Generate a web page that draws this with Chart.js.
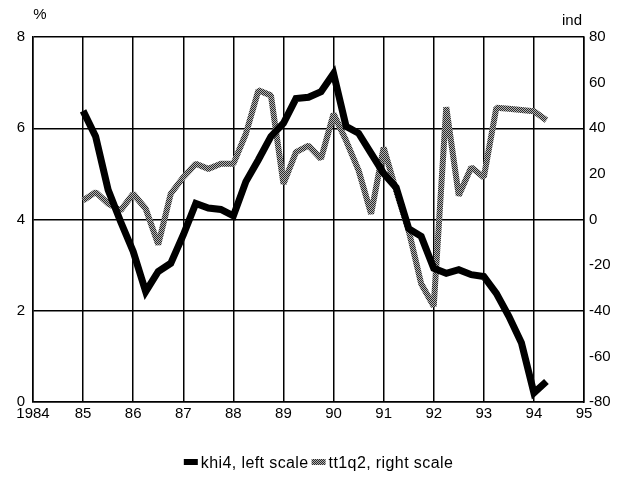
<!DOCTYPE html>
<html>
<head>
<meta charset="utf-8">
<script src="https://cdn.jsdelivr.net/npm/chart.js@4/dist/chart.umd.min.js"></script>
<style>
  html, body { margin: 0; padding: 0; background: #fff; }
  #wrap { width: 625px; height: 479px; position: relative; }
</style>
</head>
<body>
<div id="wrap"><canvas id="c" width="625" height="479"></canvas></div>
<script>
// Quarterly time points (year + fraction)
const quarters = [
  1985.00, 1985.25, 1985.50, 1985.75,
  1986.00, 1986.25, 1986.50, 1986.75,
  1987.00, 1987.25, 1987.50, 1987.75,
  1988.00, 1988.25, 1988.50, 1988.75,
  1989.00, 1989.25, 1989.50, 1989.75,
  1990.00, 1990.25, 1990.50, 1990.75,
  1991.00, 1991.25, 1991.50, 1991.75,
  1992.00, 1992.25, 1992.50, 1992.75,
  1993.00, 1993.25, 1993.50, 1993.75,
  1994.00, 1994.25
];
// khi4, left scale (%)
const khi4 = [
  6.38, 5.82, 4.65, 3.95,
  3.30, 2.42, 2.86, 3.04,
  3.66, 4.35, 4.25, 4.22,
  4.08, 4.83, 5.31, 5.82,
  6.11, 6.65, 6.68, 6.80,
  7.20, 6.04, 5.89, 5.45,
  5.01, 4.70, 3.80, 3.63,
  2.93, 2.82, 2.90, 2.79,
  2.75, 2.38, 1.88, 1.30,
  0.20, 0.45
];
// tt1q2, right scale (ind)
const tt1q2 = [
  8.3, 12.0, 7.0, 4.0,
  11.3, 4.7, -11.0, 11.3,
  18.5, 24.4, 22.2, 24.4,
  24.4, 37.6, 56.6, 54.4,
  15.6, 29.5, 32.4, 26.6,
  46.3, 34.6, 21.5, 2.5,
  31.5, 12.7, -4.8, -28.2,
  -38.0, 49.2, 10.5, 22.9,
  18.5, 49.0, 48.5, 48.0,
  47.5, 43.5
];
const seriesNames = ['khi4, left scale', 'tt1q2, right scale'];
const xTickLabelFirst = '1984';
const leftTitle = '%';
const rightTitle = 'ind';

function makePattern() {
  const p = document.createElement('canvas');
  p.width = 2; p.height = 2;
  const g = p.getContext('2d');
  g.fillStyle = '#b4b4b4'; g.fillRect(0, 0, 2, 2);
  g.fillStyle = '#2a2a2a'; g.fillRect(0, 0, 1, 1); g.fillRect(1, 1, 1, 1);
  return g.createPattern(p, 'repeat');
}
const ctx = document.getElementById('c').getContext('2d');
const grayPat = makePattern();

const FONT = "'Liberation Sans', Arial, Helvetica, sans-serif";

const titlePlugin = {
  id: 'axisTitles',
  afterDraw(chart) {
    const { ctx, chartArea } = chart;
    ctx.save();
    ctx.fillStyle = '#000';
    ctx.font = '15px ' + FONT;
    ctx.textBaseline = 'middle';
    ctx.textAlign = 'center';
    ctx.fillText(leftTitle, chartArea.left + 7, chartArea.top - 22);
    ctx.fillText(rightTitle, chartArea.right - 12, chartArea.top - 16);
    ctx.restore();
  }
};

// legend drawn from the datasets' own labels and colours
const legendPlugin = {
  id: 'bottomLegend',
  afterDraw(chart) {
    const { ctx } = chart;
    const ds = chart.data.datasets;
    ctx.save();
    ctx.font = '16px ' + FONT;
    if ('letterSpacing' in ctx) ctx.letterSpacing = '0.4px';
    ctx.textBaseline = 'alphabetic';
    ctx.textAlign = 'left';
    const boxW = 14, boxH = 6, gap = 3, itemGap = 3;
    const widths = ds.map(d => ctx.measureText(d.label).width);
    const total = widths.reduce((a, w) => a + boxW + gap + w, 0) + itemGap * (ds.length - 1);
    let x = chart.width / 2 - total / 2 + 6;
    const baseY = 468;
    ds.forEach((d, i) => {
      ctx.fillStyle = d.backgroundColor;
      ctx.fillRect(x, baseY - 9, boxW, boxH);
      x += boxW + gap;
      ctx.fillStyle = '#000';
      ctx.fillText(d.label, x, baseY);
      x += widths[i] + itemGap;
    });
    ctx.restore();
  }
};

new Chart(ctx, {
  type: 'line',
  data: {
    datasets: [
      {
        label: seriesNames[0],
        data: quarters.map((q, i) => ({ x: q, y: khi4[i] })),
        borderColor: '#000',
        backgroundColor: '#000',
        borderWidth: 7,
        pointRadius: 0,
        tension: 0,
        borderJoinStyle: 'miter',
        yAxisID: 'yL'
      },
      {
        label: seriesNames[1],
        data: quarters.map((q, i) => ({ x: q, y: tt1q2[i] })),
        borderColor: grayPat,
        backgroundColor: grayPat,
        borderWidth: 6,
        pointRadius: 0,
        tension: 0,
        borderJoinStyle: 'bevel',
        yAxisID: 'yR'
      }
    ]
  },
  options: {
    responsive: false,
    animation: false,
    layout: { padding: { top: 37, right: 0, left: 0, bottom: 34 } },
    plugins: {
      legend: { display: false },
      tooltip: { enabled: false }
    },
    scales: {
      x: {
        type: 'linear',
        min: 1984, max: 1995,
        afterFit(s) { s.height = 43; },
        ticks: {
          stepSize: 1,
          color: '#000',
          font: { family: FONT, size: 15 },
          padding: 3,
          maxRotation: 0,
          callback: v => v === 1984 ? xTickLabelFirst : String(v % 100)
        },
        grid: { color: '#000', lineWidth: 1.5, drawTicks: false },
        border: { color: '#000', width: 1.5 }
      },
      yL: {
        position: 'left',
        min: 0, max: 8,
        afterFit(s) { s.width = 33; },
        ticks: {
          stepSize: 2,
          color: '#000',
          font: { family: FONT, size: 15 },
          padding: 8
        },
        grid: { color: '#000', lineWidth: 1.5, drawTicks: false },
        border: { color: '#000', width: 1.5 }
      },
      yR: {
        position: 'right',
        min: -80, max: 80,
        afterFit(s) { s.width = 41; },
        ticks: {
          stepSize: 20,
          color: '#000',
          font: { family: FONT, size: 15 },
          padding: 5
        },
        grid: { drawOnChartArea: false, drawTicks: false },
        border: { color: '#000', width: 1.5 }
      }
    }
  },
  plugins: [titlePlugin, legendPlugin]
});
</script>
</body>
</html>
